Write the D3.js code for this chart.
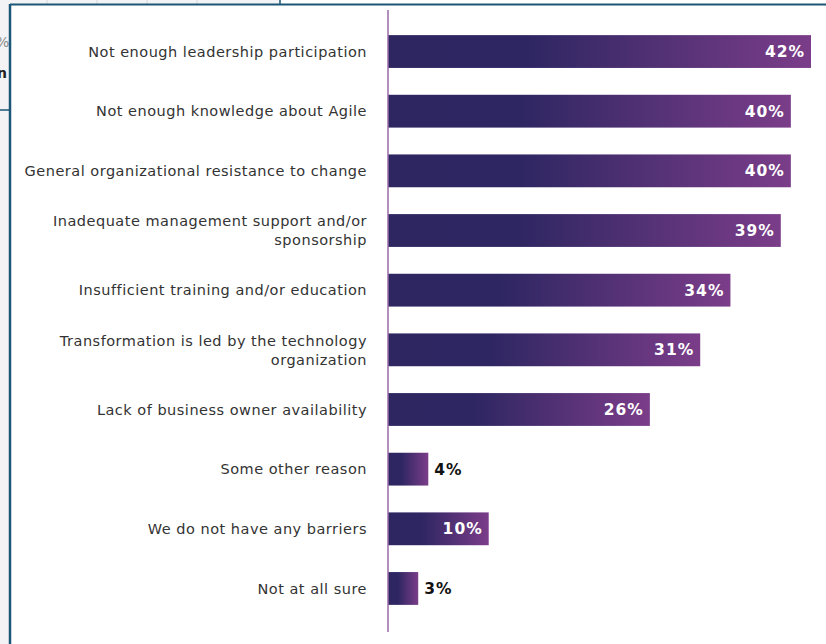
<!DOCTYPE html>
<meta charset="utf-8">
<style>
body { margin: 0; background: #fff; }
svg { display: block; }
.cat { font-family: "DejaVu Sans", sans-serif; font-size: 14.5px; letter-spacing: 0.5px; fill: #333; }
.val { font-family: "DejaVu Sans", sans-serif; font-size: 15.5px; font-weight: bold; letter-spacing: 1px; }
</style>
<body>
<svg id="chart"></svg>
<script src="https://d3js.org/d3.v7.min.js"></script>
<script>

var width = 826,
    height = 644;

// survey answers, top to bottom
var categories = [
  "Not enough leadership participation",
  "Not enough knowledge about Agile",
  "General organizational resistance to change",
  "Inadequate management support and/or|sponsorship",
  "Insufficient training and/or education",
  "Transformation is led by the technology|organization",
  "Lack of business owner availability",
  "Some other reason",
  "We do not have any barriers",
  "Not at all sure"
];
var values = [42, 40, 40, 39, 34, 31, 26, 4, 10, 3];

var svg = d3.select("#chart")
  .attr("width", width)
  .attr("height", height);

var defs = svg.append("defs");
var grad = defs.append("linearGradient")
  .attr("id", "barGrad")
  .attr("x1", "0").attr("x2", "1").attr("y1", "0").attr("y2", "0");
grad.append("stop").attr("offset", "0").attr("stop-color", "#2d2661");
grad.append("stop").attr("offset", "0.33").attr("stop-color", "#2e2662");
grad.append("stop").attr("offset", "1").attr("stop-color", "#7b3d89");

// page frame around the screenshot (background bits on the left)
svg.append("rect").attr("x", 0).attr("y", 0).attr("width", 10).attr("height", height).attr("fill", "#f3f3f6");
svg.append("rect").attr("x", 0).attr("y", 0).attr("width", 280).attr("height", 4).attr("fill", "#f3f3f6");
[47, 97, 147, 197].forEach(function(x) {
  svg.append("line").attr("x1", x).attr("x2", x).attr("y1", 0).attr("y2", 4)
    .attr("stroke", "#d8d8dc").attr("stroke-width", 1);
});
svg.append("line").attr("x1", 280).attr("x2", 280).attr("y1", 0).attr("y2", 4)
  .attr("stroke", "#1b5676").attr("stroke-width", 1.5);
svg.append("line").attr("x1", 0).attr("x2", 10).attr("y1", 110).attr("y2", 110)
  .attr("stroke", "#1b5676").attr("stroke-width", 1.5);
svg.append("text").attr("x", -4).attr("y", 47).attr("fill", "#888")
  .style("font-family", "DejaVu Sans").style("font-size", "14px").text("%");
svg.append("text").attr("x", -3).attr("y", 78).attr("fill", "#222")
  .style("font-family", "DejaVu Sans").style("font-size", "14px").style("font-weight", "bold").text("n");
svg.append("line").attr("x1", 10).attr("x2", width).attr("y1", 4.5).attr("y2", 4.5)
  .attr("stroke", "#1b5676").attr("stroke-width", 2);
svg.append("line").attr("x1", 10).attr("x2", 10).attr("y1", 4).attr("y2", height)
  .attr("stroke", "#1b5676").attr("stroke-width", 2.5);

var x0 = 388;
var x = d3.scaleLinear()
  .domain([0, 42])
  .range([x0, 811]);

var y = d3.scaleBand()
  .domain(categories)
  .range([21.7, 618.3])
  .paddingInner(0.45)
  .paddingOuter(0.225);

var bar = svg.append("g").attr("class", "bars")
  .selectAll("g")
  .data(categories)
  .enter().append("g");

bar.append("rect")
  .attr("x", x(0))
  .attr("y", function(d) { return y(d); })
  .attr("width", function(d, i) { return x(values[i]) - x(0); })
  .attr("height", y.bandwidth())
  .attr("fill", "url(#barGrad)");

// value labels: inside the bar in white, outside in black when the bar is short
bar.append("text")
  .attr("class", "val")
  .attr("x", function(d, i) {
    return values[i] < 10 ? x(values[i]) + 6 : x(values[i]) - 6;
  })
  .attr("y", function(d) { return y(d) + y.bandwidth() / 2; })
  .attr("dy", "0.36em")
  .attr("text-anchor", function(d, i) { return values[i] < 10 ? "start" : "end"; })
  .attr("fill", function(d, i) { return values[i] < 10 ? "#111" : "#fff"; })
  .text(function(d, i) { return values[i] + "%"; });

// category labels
var lab = svg.append("g").attr("class", "labels")
  .selectAll("text")
  .data(categories)
  .enter().append("text")
  .attr("class", "cat")
  .attr("text-anchor", "end")
  .attr("x", 367)
  .attr("y", function(d) {
    var lines = d.split("|").length;
    return y(d) + y.bandwidth() / 2 - (lines - 1) * 9.5;
  });

lab.selectAll("tspan")
  .data(function(d) { return d.split("|"); })
  .enter().append("tspan")
  .attr("x", 367)
  .attr("dy", function(d, i) { return i == 0 ? "0.36em" : "19px"; })
  .text(function(d) { return d; });

// vertical axis line
svg.append("line")
  .attr("x1", x0).attr("x2", x0)
  .attr("y1", 10).attr("y2", 632)
  .attr("stroke", "#9a6aa8")
  .attr("stroke-width", 1.5);

</script>
</body>
